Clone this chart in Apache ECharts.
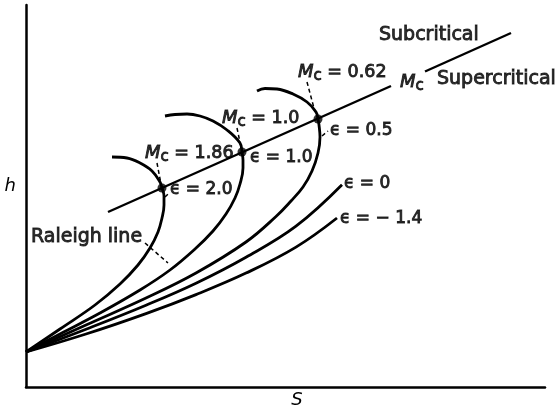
<!DOCTYPE html>
<html><head><meta charset="utf-8">
<script src="https://cdn.jsdelivr.net/npm/echarts@6/dist/echarts.min.js"></script>
<style>html,body{margin:0;padding:0;background:#fff}#c{width:557px;height:410px}</style>
</head><body><div id="c"></div>
<script>
// h–S diagram (arbitrary units): Rayleigh line with curves of constant epsilon
const curveEps20 = [[0,0.70],[0.68,1.16],[1.38,1.64],[1.88,2.06],[2.24,2.44],[2.48,2.78],[2.64,3.10],[2.72,3.38],[2.76,3.64],[2.76,3.82],[2.72,3.98],[2.68,4.10],[2.52,4.32],[2.28,4.48],[2.02,4.58],[1.72,4.60]];
const curveEps10 = [[0,0.70],[0.68,1.06],[1.48,1.48],[2.28,1.94],[2.88,2.34],[3.38,2.76],[3.74,3.12],[4.00,3.46],[4.18,3.78],[4.28,4.06],[4.34,4.38],[4.34,4.54],[4.32,4.70],[4.28,4.88],[4.02,5.14],[3.74,5.32],[3.48,5.42],[3.22,5.46],[2.98,5.45],[2.78,5.42]];
const curveEps05 = [[0,0.70],[1.20,1.24],[2.40,1.78],[3.40,2.28],[4.40,2.90],[5.00,3.41],[5.30,3.72],[5.54,4.00],[5.72,4.32],[5.84,4.68],[5.88,5.00],[5.86,5.24],[5.84,5.36],[5.80,5.50],[5.62,5.70],[5.34,5.86],[5.02,5.96],[4.78,5.97],[4.62,5.92]];
const curveEps0 = [[0,0.70],[1.20,1.156],[2.40,1.636],[3.40,2.076],[4.40,2.596],[5.40,3.216],[6.32,4.044]];
const curveEpsM14 = [[0,0.70],[1.20,1.06],[2.40,1.468],[3.40,1.848],[4.40,2.278],[5.40,2.798],[6.22,3.38]];

const rayleighLower = [[1.64,3.50],[7.30,6.02]];
const rayleighUpper = [[7.98,6.31],[9.70,7.08]];
const criticalPoints = [[2.72,3.98],[4.32,4.70],[5.84,5.36]];

const machValues = ['1.86','1.0','0.62'];
const machLabelAt = [[2.38,4.68],[3.92,5.38],[5.44,6.30]];
const epsValues = ['2.0','1.0','0.5','0','− 1.4'];
const epsLabelAt = [[2.88,3.94],[4.48,4.58],[6.08,5.12],[6.36,4.06],[6.28,3.36]];
const plainTexts = ['Subcritical','Supercritical','Raleigh line'];
const plainTextAt = [[7.06,7.04],[8.22,6.16],[0.10,3.00]];
const mcEndAt = [7.48,6.10];

const leaderLines = [
  [[2.62,4.48],[2.70,4.06]],
  [[4.22,5.18],[4.30,4.80]],
  [[5.62,6.10],[5.78,5.50]],
  [[2.38,2.88],[2.84,2.48]],
  [[2.78,3.80],[2.88,3.90]],
  [[5.92,5.02],[6.04,5.12]]
];

const FONT = 'DejaVu Sans';
const bold = {textBorderColor: '#000', textBorderWidth: 0.9};
const richMc = {
  m: Object.assign({fontFamily: FONT, fontStyle: 'italic', fontSize: 18, color: '#000', lineHeight: 24, verticalAlign: 'middle'}, bold),
  c: Object.assign({fontFamily: FONT, fontSize: 15, color: '#000', lineHeight: 12, verticalAlign: 'bottom'}, bold),
  t: Object.assign({fontFamily: FONT, fontSize: 17.5, color: '#000', lineHeight: 24, verticalAlign: 'middle'}, bold)
};

function curve(data) {
  return {type: 'line', data: data, showSymbol: false, smooth: 0.4, silent: true,
    lineStyle: {color: '#000', width: 2.8}, z: 3};
}
function textItems(points, texts) {
  return points.map((p, i) => ({value: p, label: {formatter: texts[i]}}));
}
function textSeries(items, size) {
  return {type: 'scatter', symbolSize: 0, data: items, silent: true, z: 10,
    label: Object.assign({show: true, position: 'right', distance: 0, color: '#000', fontFamily: FONT, fontSize: size, rich: richMc}, bold)};
}

const series = [
  curve(curveEps20), curve(curveEps10), curve(curveEps05), curve(curveEps0), curve(curveEpsM14),
  {type: 'line', data: rayleighLower, showSymbol: false, silent: true, lineStyle: {color: '#000', width: 2.4}},
  {type: 'line', data: rayleighUpper, showSymbol: false, silent: true, lineStyle: {color: '#000', width: 2.4}},
  {type: 'scatter', data: criticalPoints, symbolSize: 9, itemStyle: {color: '#000'}, silent: true, z: 5}
];
leaderLines.forEach(seg => series.push({type: 'line', data: seg, showSymbol: false, silent: true,
  lineStyle: {color: '#000', width: 1.5, type: [4, 3]}}));
series.push(textSeries(textItems(machLabelAt, machValues.map(v => '{m|M}{c|c}{t| = ' + v + '}')), 17.5));
series.push(textSeries(textItems([mcEndAt], ['{m|M}{c|c}']), 17.5));
series.push(textSeries(textItems(epsLabelAt, epsValues.map(v => 'ϵ = ' + v)), 17));
series.push(textSeries(textItems(plainTextAt, plainTexts), 19));

const chart = echarts.init(document.getElementById('c'));
chart.setOption({
  animation: false,
  backgroundColor: '#fff',
  grid: {left: 26, top: 5, width: 519, height: 382, outerBoundsMode: 'none', containLabel: false},
  xAxis: {type: 'value', min: 0, max: 10.38, axisTick: {show: false}, axisLabel: {show: false}, splitLine: {show: false},
    axisLine: {show: true, onZero: false, lineStyle: {color: '#000', width: 2.5}},
    name: 'S', nameLocation: 'middle', nameGap: 4,
    nameTextStyle: {fontFamily: FONT, fontStyle: 'italic', fontSize: 18, color: '#000', padding: [0, 0, 0, 23]}},
  yAxis: {type: 'value', min: 0, max: 7.64, axisTick: {show: false}, axisLabel: {show: false}, splitLine: {show: false},
    axisLine: {show: true, onZero: false, lineStyle: {color: '#000', width: 2.5}},
    name: 'h', nameLocation: 'middle', nameGap: 10, nameRotate: 0,
    nameTextStyle: {fontFamily: FONT, fontStyle: 'italic', fontSize: 18, color: '#000', verticalAlign: 'bottom', lineHeight: 20}},
  series: series
});
</script>
</body></html>
